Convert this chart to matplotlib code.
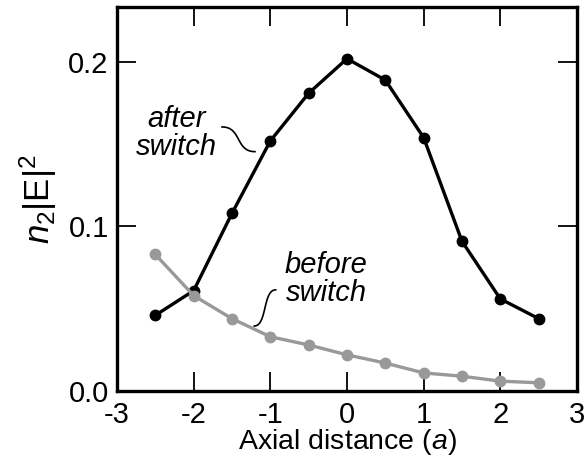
import numpy as np
import matplotlib
matplotlib.use('Agg')
import matplotlib.pyplot as plt

plt.rcParams['font.family'] = ['Liberation Sans', 'DejaVu Sans']
plt.rcParams['mathtext.fontset'] = 'custom'
plt.rcParams['mathtext.rm'] = 'Liberation Sans'
plt.rcParams['mathtext.it'] = 'Liberation Sans:italic'

# Axial positions (in units of a) and field intensity n2|E|^2
axial = [-2.5, -2.0, -1.5, -1.0, -0.5, 0.0, 0.5, 1.0, 1.5, 2.0, 2.5]
after_switch = [0.046, 0.061, 0.108, 0.152, 0.181, 0.202, 0.189, 0.154, 0.091, 0.056, 0.044]
before_switch = [0.083, 0.058, 0.044, 0.033, 0.028, 0.022, 0.017, 0.011, 0.009, 0.006, 0.005]

x_ticks = [-3, -2, -1, 0, 1, 2, 3]
x_ticklabels = ['-3', '-2', '-1', '0', '1', '2', '3']
y_ticks = [0.0, 0.1, 0.2]
y_ticklabels = ['0.0', '0.1', '0.2']


def s_curve(p0, p1, n=60):
    """Cubic bezier with horizontal tangents at both ends."""
    (x0, y0), (x1, y1) = p0, p1
    dx = x1 - x0
    c0 = (x0 + 0.6 * dx, y0)
    c1 = (x1 - 0.6 * dx, y1)
    t = np.linspace(0, 1, n)[:, None]
    pts = ((1 - t) ** 3 * np.array(p0) + 3 * (1 - t) ** 2 * t * np.array(c0)
           + 3 * (1 - t) * t ** 2 * np.array(c1) + t ** 3 * np.array(p1))
    return pts[:, 0], pts[:, 1]


fig = plt.figure(figsize=(5.84, 4.59), dpi=100)
ax = fig.add_axes([0.2003, 0.1481, 0.7877, 0.8366])

ax.plot(axial, before_switch, color='#999999', lw=2.4, marker='o', ms=7.5,
        zorder=3)
ax.plot(axial, after_switch, color='black', lw=2.4, marker='o', ms=7.5,
        zorder=2)

# leader lines from the labels to the curves
lx, ly = s_curve((-1.63, 0.1605), (-1.2, 0.1455))
ax.plot(lx, ly, color='black', lw=1.2)
lx, ly = s_curve((-1.21, 0.0395), (-0.93, 0.0615))
ax.plot(lx, ly, color='black', lw=1.2)

ax.text(-2.22, 0.157, 'after\nswitch', style='italic', fontsize=21,
        ha='center', va='center', linespacing=1.0)
ax.text(-0.27, 0.068, 'before\nswitch', style='italic', fontsize=21,
        ha='center', va='center', linespacing=1.0)

ax.set_xlim(-3, 3)
ax.set_ylim(0, 0.2334)
ax.set_xticks(x_ticks)
ax.set_xticklabels(x_ticklabels)
ax.set_yticks(y_ticks)
ax.set_yticklabels(y_ticklabels)
ax.tick_params(direction='in', length=14, width=1.3, labelsize=21,
               top=True, right=True, pad=6)
ax.tick_params(axis='x', pad=7)
for sp in ax.spines.values():
    sp.set_linewidth(2.4)

ax.set_xlabel(r'Axial distance ($\it{a}$)', fontsize=20.5, labelpad=-1)
ax.set_ylabel(r'$n_2$|E|$^2$', fontsize=25, labelpad=7)

fig.savefig('out.png', dpi=100)
